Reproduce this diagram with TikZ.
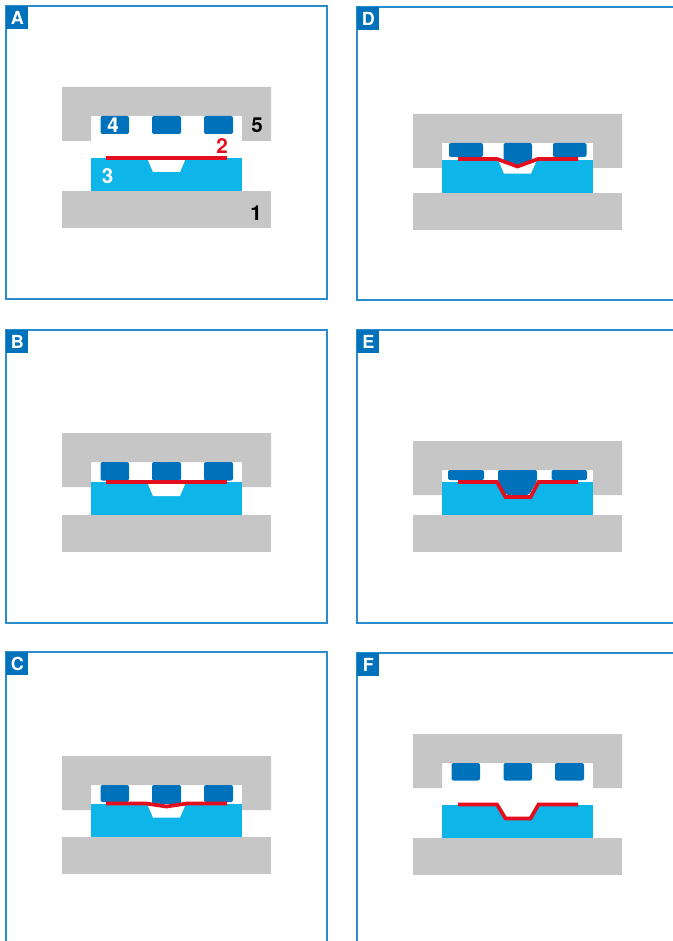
\documentclass[tikz,border=0pt]{standalone}
\usepackage{fontspec}
\setmainfont{TeX Gyre Heros}
\usepackage{xcolor}
\usetikzlibrary{positioning}
\definecolor{framecol}{HTML}{2A8CCB}
\definecolor{padcol}{HTML}{0072BC}
\definecolor{moldcol}{HTML}{0DB5E8}
\definecolor{diecol}{HTML}{C6C6C6}
\definecolor{sheetcol}{HTML}{E30E1E}

% panel frame with its letter: x, y of the corner, width, height, letter
\newcommand{\panelframe}[5]{
  \draw[framebox] (#1,#2) rectangle ++(#3,#4);
  \node[tag, anchor=north west] (tag#5) at (#1,#2) {#5};
}
% press and mold: x offset, top of upper die, top of blue mold
\newcommand{\presstool}[3]{
  \begin{scope}[shift={(#1,0)}]
    \fill[die] (0,#2) -- (209,#2) -- (209,#2+54) -- (180,#2+54) -- (180,#2+29)
      -- (29,#2+29) -- (29,#2+54) -- (0,#2+54) -- cycle;
    \fill[mold] (29,#3) rectangle (180,#3+33);
    \fill[white] (85,#3) -- (124,#3) -- (118,#3+14) -- (91,#3+14) -- cycle;
    \fill[die] (0,#3+33) rectangle (209,#3+70);
  \end{scope}
}
% one pad: left x, right x, top y, bottom y
\newcommand{\padblock}[4]{
  \fill[pad] (#1,#3) rectangle (#2,#4);
}

\begin{document}
\begin{tikzpicture}[
    x=0.75pt, y=-0.75pt,
    framebox/.style={draw=framecol, line width=0.8pt},
    tag/.style={fill=padcol, text=white, font=\bfseries\fontsize{13.5}{14}\selectfont,
      inner sep=0pt, minimum width=16.5pt, minimum height=17pt},
    die/.style={fill=diecol},
    mold/.style={fill=moldcol},
    pad/.style={fill=padcol, rounded corners=1.5pt},
    sheet/.style={draw=sheetcol, line width=2.8pt, line join=miter},
    num/.style={font=\bfseries\fontsize{15.5}{16}\selectfont, inner sep=0pt}
]
\useasboundingbox (0,0) rectangle (673,941);

% A
\panelframe{6}{6}{321}{293}{A}
\presstool{62}{87}{158}
\padblock{100.5}{129}{116}{134}
\padblock{152}{181}{116}{134}
\padblock{204}{233}{116}{134}
\draw[sheet] (106,158) -- (227,158);
\node[num, text=white] (num4) at (113,125) {4};
\node[num] (num5) at (257,125) {5};
\node[num, text=sheetcol] (num2) at (222,146.5) {2};
\node[num, text=white] (num3) at (107.5,176) {3};
\node[num] (num1) at (256,213) {1};

% B
\panelframe{6}{330}{321}{293}{B}
\presstool{62}{433}{482}
\padblock{100.5}{129}{462}{480.5}
\padblock{152}{181}{462}{480.5}
\padblock{204}{233}{462}{480.5}
\draw[sheet] (106,482) -- (227,482);

% C
\panelframe{6}{652}{321}{320}{C}
\presstool{62}{756}{803.5}
\padblock{100.5}{129}{785}{802}
\padblock{152}{181}{785}{804}
\padblock{204}{233}{785}{802}
\draw[sheet] (106,803.5) -- (146,803.5) -- (166.5,806.5) -- (187,803.5) -- (227,803.5);

% D
\panelframe{357}{7}{340}{293}{D}
\presstool{413}{114}{159.6}
\padblock{449}{483}{143}{157}
\fill[pad] (503.5,143) -- (532,143) -- (532,161) -- (517.5,166) -- (503.5,161) -- cycle;
\padblock{553}{586.5}{143}{157}
\draw[sheet] (458,159) -- (497,159) -- (517.5,166.5) -- (538,159) -- (578,159);

% E
\panelframe{357}{330}{340}{293}{E}
\presstool{413}{441}{482}
\fill[white] (497,482) -- (538.5,482) -- (530,497) -- (505,497) -- cycle;
\padblock{448}{484}{470}{480}
\fill[pad] (498,470) -- (537,470) -- (537,481) -- (529,495) -- (506,495) -- (498,481) -- cycle;
\padblock{551.5}{587}{470}{480}
\draw[sheet] (458,482) -- (497,482) -- (505.5,497) -- (530.5,497) -- (538.5,482) -- (578,482);

% F
\panelframe{357}{653}{340}{320}{F}
\presstool{413}{734}{804.5}
\fill[white] (497,804.5) -- (538.5,804.5) -- (530,818.5) -- (505,818.5) -- cycle;
\padblock{451.5}{480}{763}{780.5}
\padblock{503.5}{532}{763}{780.5}
\padblock{555}{584}{763}{780.5}
\draw[sheet] (458,804.5) -- (497,804.5) -- (505.5,818.5) -- (530.5,818.5) -- (538.5,804.5) -- (578,804.5);
\end{tikzpicture}
\end{document}
